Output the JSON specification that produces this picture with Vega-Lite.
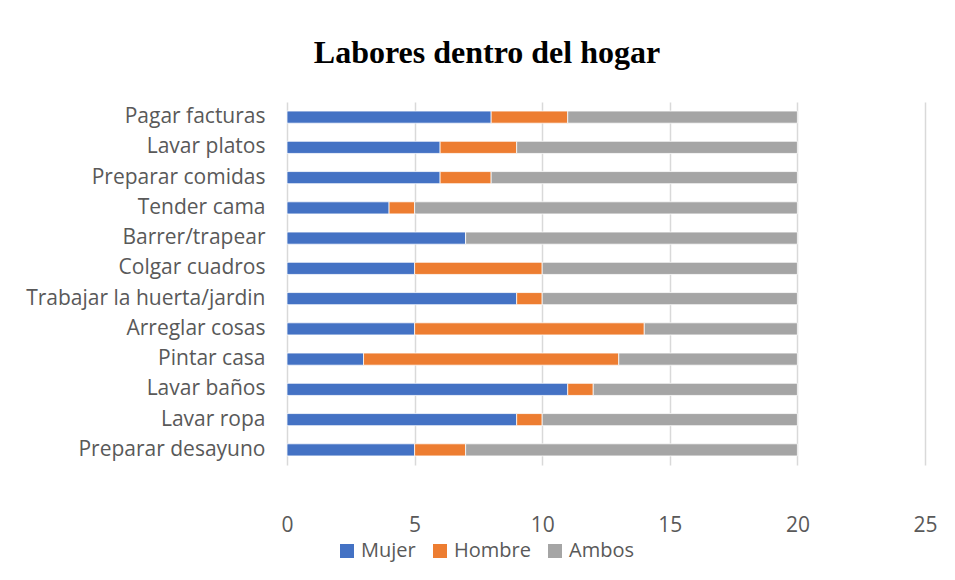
{
  "$schema": "https://vega.github.io/schema/vega-lite/v6.json",
  "autosize": {"type": "none"},
  "width": 638,
  "height": 363,
  "padding": {"left": 287, "top": 102, "right": 30, "bottom": 115},
  "background": "white",
  "title": {
    "text": "Labores dentro del hogar",
    "font": "Liberation Serif",
    "fontSize": 32,
    "fontWeight": "bold",
    "color": "#000000",
    "anchor": "middle",
    "dx": -119,
    "offset": 32
  },
  "data": {
    "values": [
      {"labor": "Pagar facturas", "grupo": "Mujer", "orden": 1, "valor": 8},
      {"labor": "Pagar facturas", "grupo": "Hombre", "orden": 2, "valor": 3},
      {"labor": "Pagar facturas", "grupo": "Ambos", "orden": 3, "valor": 9},
      {"labor": "Lavar platos", "grupo": "Mujer", "orden": 1, "valor": 6},
      {"labor": "Lavar platos", "grupo": "Hombre", "orden": 2, "valor": 3},
      {"labor": "Lavar platos", "grupo": "Ambos", "orden": 3, "valor": 11},
      {"labor": "Preparar comidas", "grupo": "Mujer", "orden": 1, "valor": 6},
      {"labor": "Preparar comidas", "grupo": "Hombre", "orden": 2, "valor": 2},
      {"labor": "Preparar comidas", "grupo": "Ambos", "orden": 3, "valor": 12},
      {"labor": "Tender cama", "grupo": "Mujer", "orden": 1, "valor": 4},
      {"labor": "Tender cama", "grupo": "Hombre", "orden": 2, "valor": 1},
      {"labor": "Tender cama", "grupo": "Ambos", "orden": 3, "valor": 15},
      {"labor": "Barrer/trapear", "grupo": "Mujer", "orden": 1, "valor": 7},
      {"labor": "Barrer/trapear", "grupo": "Hombre", "orden": 2, "valor": 0},
      {"labor": "Barrer/trapear", "grupo": "Ambos", "orden": 3, "valor": 13},
      {"labor": "Colgar cuadros", "grupo": "Mujer", "orden": 1, "valor": 5},
      {"labor": "Colgar cuadros", "grupo": "Hombre", "orden": 2, "valor": 5},
      {"labor": "Colgar cuadros", "grupo": "Ambos", "orden": 3, "valor": 10},
      {"labor": "Trabajar la huerta/jardin", "grupo": "Mujer", "orden": 1, "valor": 9},
      {"labor": "Trabajar la huerta/jardin", "grupo": "Hombre", "orden": 2, "valor": 1},
      {"labor": "Trabajar la huerta/jardin", "grupo": "Ambos", "orden": 3, "valor": 10},
      {"labor": "Arreglar cosas", "grupo": "Mujer", "orden": 1, "valor": 5},
      {"labor": "Arreglar cosas", "grupo": "Hombre", "orden": 2, "valor": 9},
      {"labor": "Arreglar cosas", "grupo": "Ambos", "orden": 3, "valor": 6},
      {"labor": "Pintar casa", "grupo": "Mujer", "orden": 1, "valor": 3},
      {"labor": "Pintar casa", "grupo": "Hombre", "orden": 2, "valor": 10},
      {"labor": "Pintar casa", "grupo": "Ambos", "orden": 3, "valor": 7},
      {"labor": "Lavar baños", "grupo": "Mujer", "orden": 1, "valor": 11},
      {"labor": "Lavar baños", "grupo": "Hombre", "orden": 2, "valor": 1},
      {"labor": "Lavar baños", "grupo": "Ambos", "orden": 3, "valor": 8},
      {"labor": "Lavar ropa", "grupo": "Mujer", "orden": 1, "valor": 9},
      {"labor": "Lavar ropa", "grupo": "Hombre", "orden": 2, "valor": 1},
      {"labor": "Lavar ropa", "grupo": "Ambos", "orden": 3, "valor": 10},
      {"labor": "Preparar desayuno", "grupo": "Mujer", "orden": 1, "valor": 5},
      {"labor": "Preparar desayuno", "grupo": "Hombre", "orden": 2, "valor": 2},
      {"labor": "Preparar desayuno", "grupo": "Ambos", "orden": 3, "valor": 13}
    ]
  },
  "mark": {"type": "bar", "stroke": "white", "strokeWidth": 0.75},
  "encoding": {
    "y": {
      "field": "labor",
      "type": "nominal",
      "sort": null,
      "title": null,
      "scale": {"paddingInner": 0.6, "paddingOuter": 0.3},
      "axis": {
        "domain": false,
        "ticks": false,
        "grid": false,
        "labelFont": "Open Sans",
        "labelFontSize": 21,
        "labelColor": "#595959",
        "labelPadding": 22,
        "labelLimit": 300
      }
    },
    "x": {
      "field": "valor",
      "type": "quantitative",
      "stack": "zero",
      "title": null,
      "scale": {"domain": [0, 25], "nice": false},
      "axis": {
        "values": [0, 5, 10, 15, 20, 25],
        "domain": false,
        "ticks": false,
        "grid": true,
        "gridColor": "#d9d9d9",
        "gridWidth": 1.5,
        "labelFlush": false,
        "labelFont": "Open Sans",
        "labelFontSize": 21,
        "labelColor": "#595959",
        "labelPadding": 49
      }
    },
    "color": {
      "field": "grupo",
      "type": "nominal",
      "scale": {"domain": ["Mujer", "Hombre", "Ambos"], "range": ["#4472C4", "#ED7D31", "#A5A5A5"]},
      "legend": {
        "title": null,
        "orient": "none",
        "direction": "horizontal",
        "legendX": 50,
        "legendY": 439,
        "symbolType": "square",
        "symbolSize": 196,
        "symbolStrokeWidth": 0,
        "labelFont": "Open Sans",
        "labelFontSize": 20,
        "labelColor": "#595959",
        "columnPadding": 14,
        "labelOffset": 4
      }
    },
    "order": {"field": "orden", "type": "quantitative"}
  },
  "config": {"view": {"stroke": null}}
}
